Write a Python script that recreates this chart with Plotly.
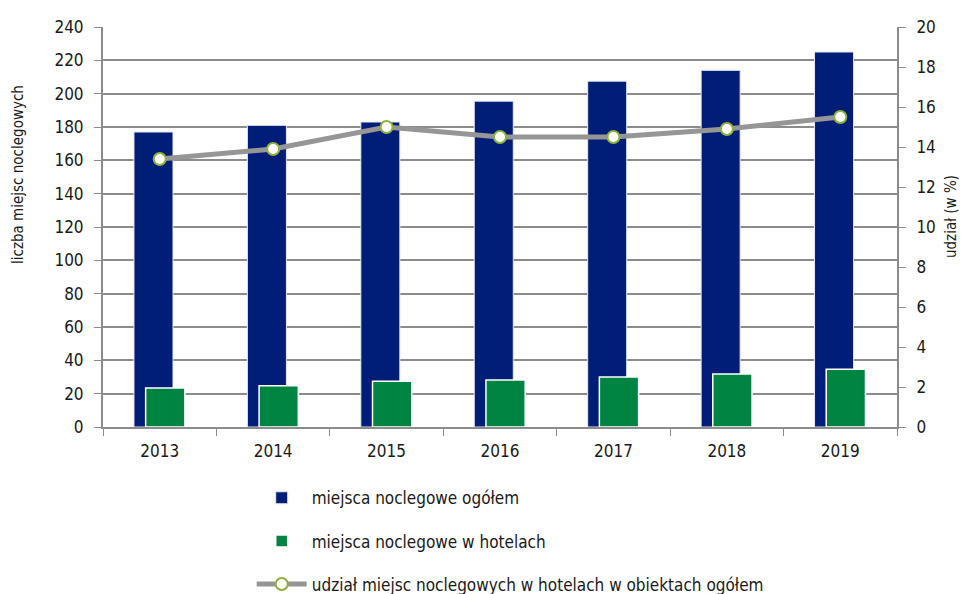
import plotly.graph_objects as go

years = ["2013", "2014", "2015", "2016", "2017", "2018", "2019"]
total_places = [177, 181, 183, 195.5, 207.5, 214, 225]
hotel_places = [23.4, 24.8, 27.4, 28.2, 30, 31.8, 34.6]
hotel_share = [13.4, 13.9, 15.0, 14.5, 14.5, 14.9, 15.5]

FONT = "'DejaVu Sans Condensed', 'Liberation Sans Narrow', 'DejaVu Sans'"
GRID = "#8c8c8c"
F = dict(family=FONT, size=17, color="#1a1a1a")

fig = go.Figure()
fig.add_trace(go.Bar(
    x=years, y=total_places, name="miejsca noclegowe ogółem",
    marker=dict(color="#001E78", line=dict(color="#e8e8f0", width=1)),
    offset=-0.227, width=0.344, legendgroup="a", yaxis="y"))
fig.add_trace(go.Bar(
    x=years, y=hotel_places, name="miejsca noclegowe w hotelach",
    marker=dict(color="#008442", line=dict(color="white", width=1.5)),
    offset=-0.124, width=0.346, legendgroup="b", yaxis="y"))
fig.add_trace(go.Scatter(
    x=years, y=hotel_share, name="udział miejsc noclegowych w hotelach w obiektach ogółem",
    mode="lines+markers", line=dict(color="#969696", width=5),
    marker=dict(size=12, color="white", line=dict(color="#8DB33A", width=2)),
    legendgroup="c", yaxis="y2"))

fig.update_layout(
    width=971, height=594,
    margin=dict(l=95, r=82, t=19, b=175, autoexpand=False),
    paper_bgcolor="white", plot_bgcolor="white",
    barmode="overlay",
    font=F,
    xaxis=dict(type="category", tickson="boundaries", ticks="outside", ticklen=7,
               tickcolor=GRID, showline=True, linecolor=GRID, linewidth=2,
               showgrid=False, range=[-0.5, 6.5], ticklabelstandoff=8),
    yaxis=dict(range=[0, 240], dtick=20, showgrid=True, gridcolor=GRID, gridwidth=1.5,
               ticks="outside", ticklen=7, tickcolor=GRID, showline=True,
               linecolor=GRID, linewidth=2, zeroline=False, ticklabelstandoff=7),
    yaxis2=dict(range=[0, 20], dtick=2, overlaying="y", side="right", showgrid=False,
                ticks="outside", ticklen=7, tickcolor=GRID, showline=True,
                linecolor=GRID, linewidth=2, zeroline=False, ticklabelstandoff=7),
    annotations=[
        dict(text="liczba miejsc noclegowych", xref="paper", yref="paper",
             x=0, y=0.63, xshift=-85, textangle=-90, showarrow=False,
             xanchor="center", yanchor="middle", font=dict(size=15)),
        dict(text="udział (w %)", xref="paper", yref="paper",
             x=1, y=0.525, xshift=54, textangle=-90, showarrow=False,
             xanchor="center", yanchor="middle", font=dict(size=15)),
    ],
    legend=dict(xref="container", yref="container", x=0.251, y=0.205,
                xanchor="left", yanchor="top", orientation="v",
                traceorder="grouped", tracegroupgap=18,
                bgcolor="rgba(0,0,0,0)", itemwidth=50),
    showlegend=True,
)

fig.write_html("out.html")
